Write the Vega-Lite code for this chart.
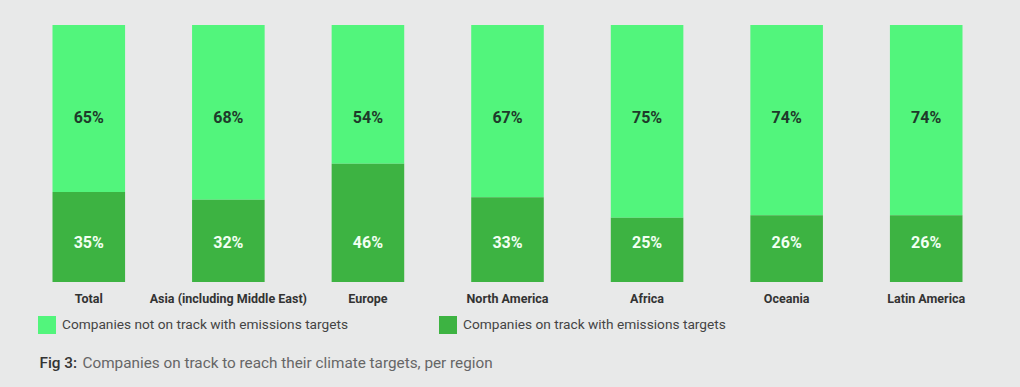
{
  "$schema": "https://vega.github.io/schema/vega-lite/v6.json",
  "width": 977,
  "height": 257,
  "autosize": {"type": "none"},
  "padding": {"left": 19, "top": 25, "right": 24, "bottom": 105},
  "background": "#e8e9e9",
  "config": {"view": {"stroke": null}, "font": "Roboto"},
  "data": {
    "values": [
      {"region": "Total", "status": "Companies not on track with emissions targets", "share": 0.65},
      {"region": "Total", "status": "Companies on track with emissions targets", "share": 0.35},
      {"region": "Asia (including Middle East)", "status": "Companies not on track with emissions targets", "share": 0.68},
      {"region": "Asia (including Middle East)", "status": "Companies on track with emissions targets", "share": 0.32},
      {"region": "Europe", "status": "Companies not on track with emissions targets", "share": 0.54},
      {"region": "Europe", "status": "Companies on track with emissions targets", "share": 0.46},
      {"region": "North America", "status": "Companies not on track with emissions targets", "share": 0.67},
      {"region": "North America", "status": "Companies on track with emissions targets", "share": 0.33},
      {"region": "Africa", "status": "Companies not on track with emissions targets", "share": 0.75},
      {"region": "Africa", "status": "Companies on track with emissions targets", "share": 0.25},
      {"region": "Oceania", "status": "Companies not on track with emissions targets", "share": 0.74},
      {"region": "Oceania", "status": "Companies on track with emissions targets", "share": 0.26},
      {"region": "Latin America", "status": "Companies not on track with emissions targets", "share": 0.74},
      {"region": "Latin America", "status": "Companies on track with emissions targets", "share": 0.26}
    ]
  },
  "encoding": {
    "x": {
      "field": "region",
      "type": "nominal",
      "sort": ["Total", "Asia (including Middle East)", "Europe", "North America", "Africa", "Oceania", "Latin America"],
      "scale": {"paddingInner": 0.48, "paddingOuter": 0.24},
      "axis": {
        "labelAngle": 0,
        "labelFontWeight": "bold",
        "labelFontSize": 12.5,
        "labelColor": "#333333",
        "labelPadding": 10,
        "labelLimit": 300,
        "ticks": false,
        "domain": false,
        "title": "Companies on track to reach their climate targets, per region",
        "titleX": 63,
        "titleY": 85,
        "titleAlign": "left",
        "titleBaseline": "alphabetic",
        "titleFontWeight": "normal",
        "titleFontSize": 15.3,
        "titleColor": "#666666"
      }
    }
  },
  "layer": [
    {
      "mark": {"type": "bar"},
      "encoding": {
        "y": {
          "field": "share",
          "type": "quantitative",
          "stack": "zero",
          "scale": {"domain": [0, 1], "nice": false},
          "axis": {
            "domain": false,
            "ticks": false,
            "labels": false,
            "grid": false,
            "title": "Fig 3:",
            "titleAngle": 0,
            "titleX": 20,
            "titleY": 342,
            "titleAlign": "left",
            "titleBaseline": "alphabetic",
            "titleFontSize": 15.3,
            "titleFontWeight": 500,
            "titleColor": "#333333"
          }
        },
        "color": {
          "field": "status",
          "type": "nominal",
          "scale": {
            "domain": ["Companies not on track with emissions targets", "Companies on track with emissions targets"],
            "range": ["#52f57c", "#3db342"]
          },
          "legend": {
            "orient": "none",
            "legendX": 19,
            "legendY": 291,
            "direction": "horizontal",
            "title": null,
            "padding": 0,
            "symbolType": "square",
            "symbolSize": 324,
            "symbolStrokeWidth": 0,
            "symbolOpacity": 1,
            "labelFontSize": 13.7,
            "labelColor": "#444444",
            "labelOffset": 6,
            "labelLimit": 500,
            "columnPadding": 90
          }
        },
        "order": {"field": "status", "sort": "descending"}
      }
    },
    {
      "transform": [{"filter": "datum.status === 'Companies not on track with emissions targets'"}],
      "mark": {"type": "text", "fontWeight": "bold", "fontSize": 16, "color": "#1e3a2a", "baseline": "middle"},
      "encoding": {
        "y": {"datum": 0.637, "type": "quantitative"},
        "text": {"field": "share", "type": "quantitative", "format": ".0%"}
      }
    },
    {
      "transform": [{"filter": "datum.status === 'Companies on track with emissions targets'"}],
      "mark": {"type": "text", "fontWeight": "bold", "fontSize": 16, "color": "#f2fff2", "baseline": "middle"},
      "encoding": {
        "y": {"datum": 0.151, "type": "quantitative"},
        "text": {"field": "share", "type": "quantitative", "format": ".0%"}
      }
    }
  ]
}
